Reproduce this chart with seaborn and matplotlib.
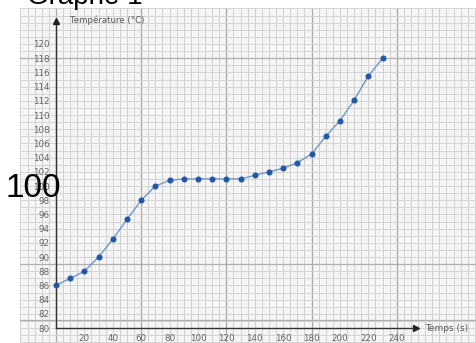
import numpy as np
import pandas as pd
import matplotlib
matplotlib.use("Agg")
import matplotlib.pyplot as plt
import seaborn as sns

# Heating curve readings
temps_s = [0, 10, 20, 30, 40, 50, 60, 70, 80, 90, 100, 110,
           120, 130, 140, 150, 160, 170, 180, 190, 200, 210, 220, 230]
temperature_c = [86, 87, 88, 90, 92.5, 95.3, 98, 100, 100.8, 101, 101, 101,
                 101, 101, 101.5, 102, 102.5, 103.3, 104.5, 107, 109.2, 112.1, 115.5, 118]
y_tick_labels = list(range(80, 121, 2))
x_tick_labels = list(range(20, 241, 20))

df = pd.DataFrame({"Temps (s)": temps_s, "Température (°C)": temperature_c})

sns.set_style("white")
plt.rcParams["font.family"] = ["DejaVu Sans"]

W, H = 477, 343
fig = plt.figure(figsize=(W / 100, H / 100), dpi=100)
fig.patch.set_facecolor("white")
ax = fig.add_axes([20 / W, 0, 457 / W, 335 / H])
ax.set_facecolor("#f5f5f5")
ax.set_xlim(-25.35, 296.5)
ax.set_ylim(77.89, 125.07)

# graph-paper rulings
for xv in np.arange(-25, 300, 5):
    heavy = (xv % 60 == 0)
    ax.axvline(xv, color="#a9a9a9" if heavy else "#d0d0d0", lw=0.9 if heavy else 0.7, zorder=0)
for yv in np.arange(78, 126, 1):
    ax.axhline(yv, color="#d4d4d4", lw=0.7, zorder=0)
for yv in [81.1, 89, 118]:
    ax.axhline(yv, color="#b0b0b0", lw=0.9, zorder=0)

sns.lineplot(data=df, x="Temps (s)", y="Température (°C)", ax=ax,
             color="#7096cc", lw=1.0, marker="o", markersize=3.6,
             markerfacecolor="#2257a5", markeredgecolor="#2257a5", zorder=5)

# axes through the origin with arrow heads
for s in ["top", "right"]:
    ax.spines[s].set_visible(False)
ax.spines["left"].set_position(("data", 0))
ax.spines["bottom"].set_position(("data", 80))
ax.spines["left"].set_bounds(80, 123)
ax.spines["bottom"].set_bounds(0, 253)
for s in ["left", "bottom"]:
    ax.spines[s].set_color("#333333")
    ax.spines[s].set_linewidth(1.0)
ax.plot(0, 123.3, marker="^", color="#222222", markersize=4, clip_on=False, zorder=6)
ax.plot(253.5, 80, marker=">", color="#222222", markersize=4, clip_on=False, zorder=6)

ax.set_yticks(y_tick_labels)
ax.set_yticks(np.arange(80, 122, 1), minor=True)
ax.set_xticks(x_tick_labels)
ax.set_xticks(np.arange(10, 250, 10), minor=True)
ax.tick_params(which="both", direction="inout", color="#333333", width=0.8)
ax.tick_params(which="major", length=5, labelsize=6.3, labelcolor="#666666", pad=2)
ax.tick_params(which="minor", length=4)
ax.set_xlabel("")
ax.set_ylabel("")

ax.text(10, 123.3, "Température (°C)", fontsize=6.2, color="#555555", va="center", ha="left")
ax.text(260, 80, "Temps (s)", fontsize=6.5, color="#555555", va="center", ha="left")

fig.text(27 / W, 1 - 4 / H, "Graphe 1", fontsize=20, family="Liberation Sans",
         va="baseline", ha="left", color="black")
fig.text(5.5 / W, 1 - 197 / H, "100", fontsize=24, family="Liberation Sans",
         va="baseline", ha="left", color="black")

fig.savefig("out.png", dpi=100)
